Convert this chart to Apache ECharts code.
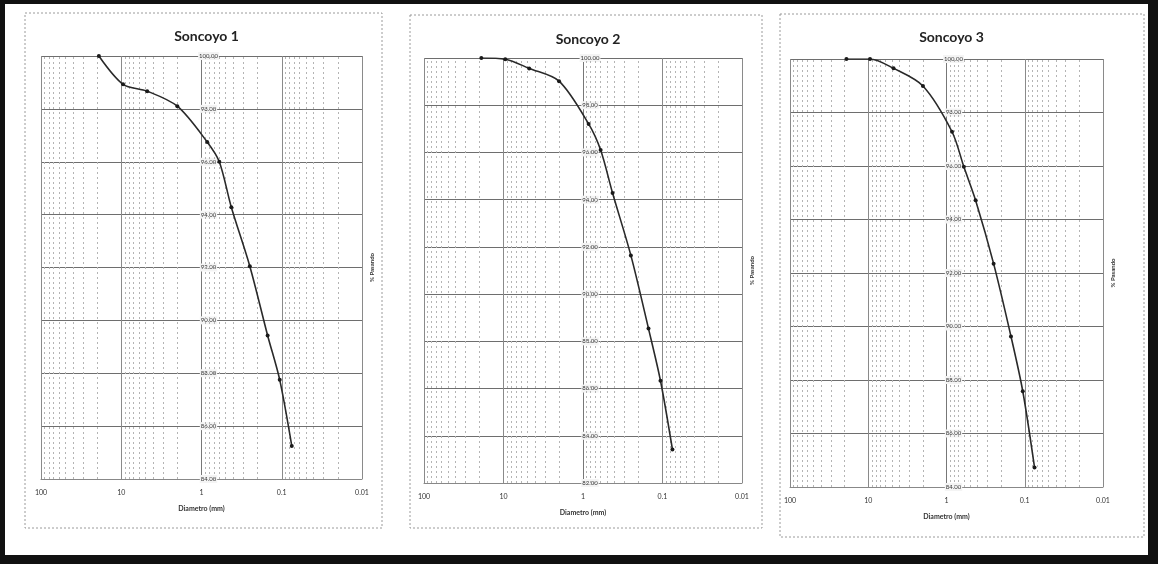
<!DOCTYPE html>
<html>
<head>
<meta charset="utf-8">
<script src="https://cdn.jsdelivr.net/npm/echarts@6/dist/echarts.min.js"></script>
<style>
html,body{margin:0;padding:0;background:#fff;}
#c{width:1158px;height:564px;}
</style>
</head>
<body>
<div id="c"></div>
<script>
// ---- data (sieve size in mm, % passing) ----
const titles = ['Soncoyo 1', 'Soncoyo 2', 'Soncoyo 3'];
const sizes1 = [19, 9.5, 4.75, 2, 0.85, 0.6, 0.425, 0.25, 0.15, 0.106, 0.075];
const pass1  = [100, 98.93, 98.67, 98.1, 96.75, 96.0, 94.28, 92.05, 89.43, 87.75, 85.25];
const sizes2 = [19, 9.5, 4.75, 2, 0.85, 0.6, 0.425, 0.25, 0.15, 0.106, 0.075];
const pass2  = [100, 99.95, 99.56, 99.02, 97.21, 96.1, 94.28, 91.64, 88.54, 86.33, 83.42];
const sizes3 = [19, 9.5, 4.75, 2, 0.85, 0.6, 0.425, 0.25, 0.15, 0.106, 0.075];
const pass3  = [100, 100, 99.65, 98.99, 97.28, 95.97, 94.72, 92.35, 89.63, 87.58, 84.73];
const yMins = [84, 82, 84];
const yMax = 100;
const yStep = 2;
const xMin = 0.01, xMax = 100;
const xName = 'Diametro (mm)';
const yName = '% Pasando';

// ---- layout ----
const grids = [
  {left: 41, top: 56, width: 321, height: 423},
  {left: 424, top: 58, width: 318, height: 425},
  {left: 790, top: 59, width: 313, height: 428}
];
const boxes = [
  [25, 13, 357, 515],
  [410, 15, 352, 513],
  [780, 14, 364, 523]
];
const titleY = [24, 27, 25];

const sizesAll = [sizes1, sizes2, sizes3];
const passAll = [pass1, pass2, pass3];

// minor log gridline positions (2..9 x 10^k)
const minorVals = [];
for (let k = -2; k <= 1; k++) {
  for (let m = 2; m <= 9; m++) minorVals.push(Number((m * Math.pow(10, k)).toPrecision(6)));
}

const option = {
  backgroundColor: '#ffffff',
  animation: false,
  title: [],
  grid: [],
  xAxis: [],
  yAxis: [],
  series: [],
  graphic: []
};

const fontFam = 'Lato, "Liberation Sans", Arial, sans-serif';

for (let i = 0; i < 3; i++) {
  const g = grids[i];
  option.grid.push({left: g.left, top: g.top, width: g.width, height: g.height, containLabel: false});
  option.title.push({
    text: titles[i],
    left: g.left + g.width / 2,
    top: titleY[i],
    textAlign: 'center',
    textStyle: {fontSize: 14, fontWeight: 'bold', color: '#222', fontFamily: fontFam}
  });
  option.xAxis.push({
    type: 'log', logBase: 10, gridIndex: i, min: xMin, max: xMax, inverse: true,
    name: xName, nameLocation: 'middle', nameGap: 26,
    nameTextStyle: {fontSize: 7, fontWeight: 'bold', color: '#333', fontFamily: fontFam},
    axisLine: {show: true, lineStyle: {color: '#888', width: 1}},
    axisTick: {show: false},
    axisLabel: {fontSize: 7, color: '#333', margin: 10, fontFamily: fontFam,
      formatter: v => String(Number(v.toPrecision(6)))},
    splitLine: {show: true, lineStyle: {color: '#8a8a8a', width: 1}}
  });
  option.yAxis.push({
    type: 'value', gridIndex: i, min: yMins[i], max: yMax, interval: yStep,
    position: 'left', offset: -g.width / 2,
    axisLine: {show: true, lineStyle: {color: '#777', width: 1}},
    axisTick: {show: false},
    axisLabel: {fontSize: 6, color: '#333', align: 'center', margin: -7,
      backgroundColor: '#f4f4f4', padding: [1, 1], fontFamily: fontFam,
      formatter: v => v.toFixed(2)},
    splitLine: {show: true, lineStyle: {color: '#6e6e6e', width: 1.2}}
  });
  // minor vertical dashed gridlines
  option.series.push({
    type: 'line', xAxisIndex: i, yAxisIndex: i, data: [[1, yMins[i]]],
    showSymbol: false, symbol: 'none', lineStyle: {width: 0}, silent: true, z: 1,
    markLine: {
      silent: true, symbol: ['none', 'none'], label: {show: false},
      lineStyle: {type: [2, 3], color: '#b4b4b4', width: 1},
      data: minorVals.map(v => ({xAxis: v}))
    }
  });
  option.series.push({
    type: 'line', xAxisIndex: i, yAxisIndex: i, z: 5,
    data: sizesAll[i].map((s, j) => [s, passAll[i][j]]),
    smooth: 0.3,
    symbol: 'circle', symbolSize: 4,
    lineStyle: {color: '#2a2a2a', width: 1.6},
    itemStyle: {color: '#1a1a1a'}
  });
  // y axis name on the right
  option.graphic.push({
    type: 'text',
    x: g.left + g.width + 10,
    y: g.top + g.height / 2,
    rotation: Math.PI / 2,
    style: {text: yName, fill: '#333',
      align: 'center', verticalAlign: 'middle', font: 'bold 6px ' + fontFam}
  });
  // dashed chart box
  const b = boxes[i];
  option.graphic.push({
    type: 'rect', z: -1,
    shape: {x: b[0], y: b[1], width: b[2], height: b[3]},
    style: {fill: 'none', stroke: '#9a9a9a', lineWidth: 1, lineDash: [2, 2]}
  });
}

// outer black frame of the scan
option.graphic.push(
  {type: 'rect', shape: {x: 0, y: 0, width: 1158, height: 4}, style: {fill: '#111'}},
  {type: 'rect', shape: {x: 0, y: 0, width: 5, height: 564}, style: {fill: '#111'}},
  {type: 'rect', shape: {x: 0, y: 555, width: 1158, height: 9}, style: {fill: '#111'}},
  {type: 'rect', shape: {x: 1148, y: 0, width: 10, height: 564}, style: {fill: '#111'}}
);

const chart = echarts.init(document.getElementById('c'), null, {renderer: 'canvas'});
chart.setOption(option);
</script>
</body>
</html>
